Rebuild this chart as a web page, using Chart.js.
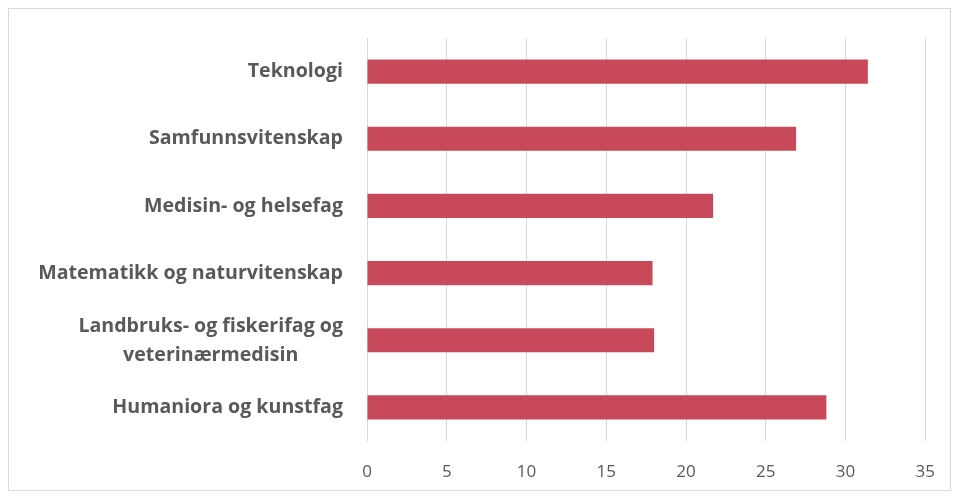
<!DOCTYPE html>
<html>
<head>
<meta charset="utf-8">
<script src="https://cdn.jsdelivr.net/npm/chart.js@4"></script>
<style>
  body { margin: 0; background: #fff; }
  #wrap { position: relative; width: 956px; height: 496px; }
  #frame { position: absolute; left: 8px; top: 8px; width: 941px; height: 481px; border: 1px solid #d9d9d9; }
  #chart { position: absolute; left: 0; top: 0; }
</style>
</head>
<body>
<div id="wrap">
  <div id="frame"></div>
  <canvas id="chart" width="956" height="496"></canvas>
</div>
<script>
    // fagområder, øverst først
    var categories = [
        'Teknologi',
        'Samfunnsvitenskap',
        'Medisin- og helsefag',
        'Matematikk og naturvitenskap',
        ['Landbruks- og fiskerifag og', 'veterinærmedisin'],
        'Humaniora og kunstfag'
    ];
    var values = [31.4, 26.9, 21.7, 17.9, 18.0, 28.8];
    var xTicks = [0, 5, 10, 15, 20, 25, 30, 35];

    var textColor = '#595959';
    var labelFont = 'bold 19.6px "Open Sans", "Liberation Sans", sans-serif';

    // tegner kategorinavn, flerlinjers etiketter sentreres innbyrdes
    var catLabels = {
        id: 'catLabels',
        afterDraw: function (chart) {
            var ctx = chart.ctx;
            var y = chart.scales.y;
            var right = chart.chartArea.left - 24;
            ctx.save();
            ctx.font = labelFont;
            ctx.fillStyle = textColor;
            ctx.textBaseline = 'middle';
            categories.forEach(function (lab, i) {
                var cy = y.getPixelForValue(i);
                if (Array.isArray(lab)) {
                    var w = Math.max.apply(null, lab.map(function (l) { return ctx.measureText(l).width; }));
                    var lh = 29;
                    ctx.textAlign = 'center';
                    lab.forEach(function (l, k) {
                        ctx.fillText(l, right - w / 2, cy + 1 + (k - (lab.length - 1) / 2) * lh);
                    });
                } else {
                    ctx.textAlign = 'right';
                    ctx.fillText(lab, right, cy);
                }
            });
            ctx.restore();
        }
    };

    var ctx = document.getElementById('chart').getContext('2d');
    var chart = new Chart(ctx, {
        type: 'bar',
        data: {
            labels: categories,
            datasets: [{
                data: values,
                backgroundColor: '#c84a5a',
                borderWidth: 0,
                categoryPercentage: 1,
                barPercentage: 0.36
            }]
        },
        options: {
            indexAxis: 'y',
            responsive: false,
            animation: false,
            layout: { padding: { top: 38, right: 29, left: 0, bottom: 0 } },
            plugins: {
                legend: { display: false },
                tooltip: { enabled: false }
            },
            scales: {
                x: {
                    min: 0,
                    max: 35,
                    afterBuildTicks: function (scale) {
                        scale.ticks = xTicks.map(function (v) { return { value: v }; });
                    },
                    afterFit: function (scale) { scale.height = 55; },
                    grid: { color: '#d9d9d9', lineWidth: 1, drawTicks: false },
                    border: { display: false },
                    ticks: {
                        padding: 21,
                        color: textColor,
                        font: { family: '"Open Sans", "Liberation Sans", sans-serif', size: 17 }
                    }
                },
                y: {
                    afterFit: function (scale) { scale.width = 367; },
                    grid: { display: false },
                    border: { display: false },
                    ticks: { display: false }
                }
            }
        },
        plugins: [catLabels]
    });
</script>
</body>
</html>
